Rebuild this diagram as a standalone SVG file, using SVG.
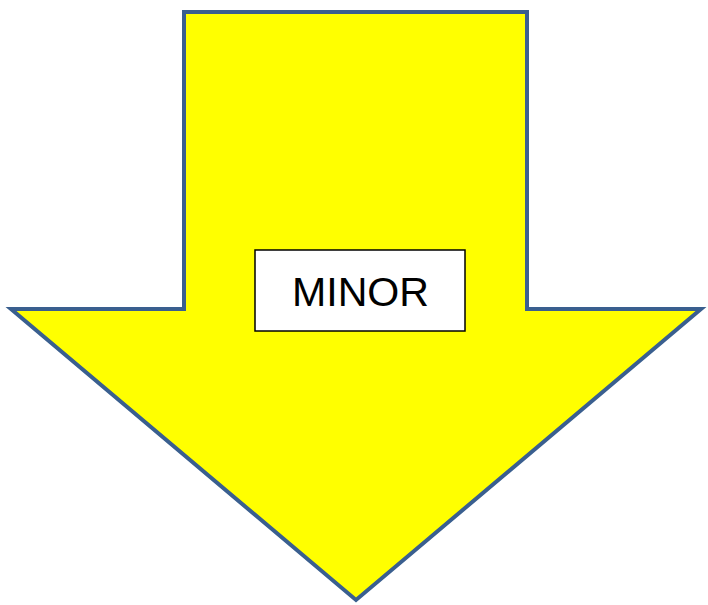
<svg xmlns="http://www.w3.org/2000/svg" width="708" height="605" viewBox="0 0 708 605">
<style>
.arrow{fill:#FFFF00;stroke:#3A5F8F;stroke-width:4;stroke-linejoin:miter}
.box{fill:#FFFFFF;stroke:#000000;stroke-width:1.5}
.lbl{font-family:"Liberation Sans",Arial,sans-serif;font-size:41px;fill:#000000;text-anchor:middle}
</style>
<rect width="708" height="605" fill="#FFFFFF"/>
<g id="arrow">
<polygon class="arrow" points="184,12 527,12 527,309 701,309 356,600 11,309 184,309"/>
</g>
<g id="minor">
<rect class="box" x="255" y="250" width="210" height="81"/>
<text class="lbl" x="360.5" y="306" textLength="137" lengthAdjust="spacingAndGlyphs">MINOR</text>
</g>
</svg>
